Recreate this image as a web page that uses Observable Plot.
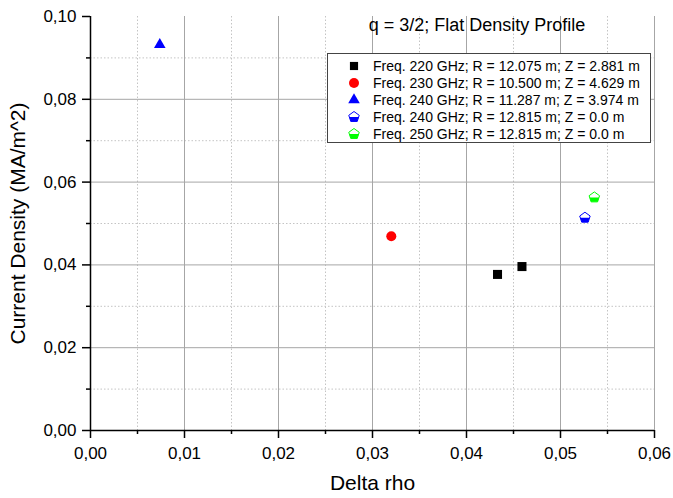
<!DOCTYPE html>
<html><head><meta charset="utf-8">
<script src="https://cdn.jsdelivr.net/npm/d3@7"></script>
<script src="https://cdn.jsdelivr.net/npm/@observablehq/plot@0.6"></script>
<style>
body{margin:0;background:#fff;font-family:"Liberation Sans",Arial,sans-serif;}
#wrap{position:relative;width:673px;height:498px;}
#title{position:absolute;left:477px;top:16px;transform:translateX(-50%);font-size:18px;line-height:18px;white-space:nowrap;color:#000;}
#legend{position:absolute;left:327px;top:53px;width:322px;border:1px solid #444;background:#fff;box-sizing:content-box;padding-top:3px;height:85px;}
.row{display:flex;align-items:center;height:17px;font-size:14px;white-space:nowrap;}
.row svg{margin-left:19px;margin-right:12px;}
</style></head><body><div id="wrap"><div id="title"></div><div id="legend"></div></div>
<script>
// ---- data ----
const seriesLabels = [
  "Freq. 220 GHz; R = 12.075 m; Z = 2.881 m",
  "Freq. 230 GHz; R = 10.500 m; Z = 4.629 m",
  "Freq. 240 GHz; R = 11.287 m; Z = 3.974 m",
  "Freq. 240 GHz; R = 12.815 m; Z = 0.0 m",
  "Freq. 250 GHz; R = 12.815 m; Z = 0.0 m"
];
const seriesColors = ["#000000", "#ff0000", "#0000ff", "#0000ff", "#00ff00"];
const deltaRho       = [0.0433, 0.0459, 0.0320, 0.00737, 0.0526, 0.0536];
const currentDensity = [0.0377, 0.0396, 0.0469, 0.0932, 0.0514, 0.0563];
const seriesIndex    = [0, 0, 1, 2, 3, 4];
const xTicks = [0, 0.01, 0.02, 0.03, 0.04, 0.05, 0.06];
const xMinorTicks = [0.005, 0.015, 0.025, 0.035, 0.045, 0.055];
const yTicks = [0, 0.02, 0.04, 0.06, 0.08, 0.10];
const yMinorTicks = [0.01, 0.03, 0.05, 0.07, 0.09];
const xGridTicks = [0.01, 0.02, 0.03, 0.04, 0.05, 0.06];
const yGridTicks = [0.02, 0.04, 0.06, 0.08];
const titleText = "q = 3/2; Flat Density Profile";
const xLabel = "Delta rho";
const yLabel = "Current Density (MA/m^2)";

// ---- symbols ----
const pentPts = [0, 72, 144, 216, 288].map(a => [Math.sin(a*Math.PI/180), -Math.cos(a*Math.PI/180)]);
const pentagon = {draw(ctx, size){
  const R = Math.sqrt(size/Math.PI)*1.1;
  pentPts.forEach(([x,y],i)=> i ? ctx.lineTo(x*R, y*R) : ctx.moveTo(x*R, y*R));
  ctx.closePath();
}};
const pentagonLower = {draw(ctx, size){
  const R = Math.sqrt(size/Math.PI)*1.1;
  ctx.moveTo(0.851*R, 0); ctx.lineTo(0.588*R, 0.809*R); ctx.lineTo(-0.588*R, 0.809*R); ctx.lineTo(-0.851*R, 0);
  ctx.closePath();
}};

const rows = deltaRho.map((x,i)=>({x, y: currentDensity[i], s: seriesIndex[i]}));
const of = k => rows.filter(d => d.s === k);
const fmt = d => d.toFixed(2).replace(".", ",");

const chart = Plot.plot({
  width: 673, height: 498,
  marginLeft: 90, marginRight: 19, marginTop: 16, marginBottom: 68,
  style: {fontFamily: '"Liberation Sans", Arial, sans-serif', background: "#fff", overflow: "visible"},
  x: {domain: [0, 0.06]},
  y: {domain: [0, 0.10]},
  marks: [
    Plot.gridY(yMinorTicks, {stroke: "#c4c4c4", strokeOpacity: 1, strokeDasharray: "1.5,2"}),
    Plot.gridX(xMinorTicks, {stroke: "#c4c4c4", strokeOpacity: 1, strokeDasharray: "1.5,2"}),
    Plot.gridY(yGridTicks, {stroke: "#a6a6a6", strokeOpacity: 1}),
    Plot.gridX(xGridTicks, {stroke: "#a6a6a6", strokeOpacity: 1}),
    Plot.axisX(xTicks, {tickSize: 8, tickPadding: 8, tickFormat: fmt, fontSize: 17, label: null, stroke: "#000", strokeWidth: 1.5, color: "#000"}),
    Plot.axisX(xMinorTicks, {tickSize: 4, tickFormat: () => "", label: null, stroke: "#000", strokeWidth: 1.5}),
    Plot.axisY(yTicks, {tickSize: 8, tickPadding: 6, tickFormat: fmt, fontSize: 17, label: null, stroke: "#000", strokeWidth: 1.5, color: "#000"}),
    Plot.axisY(yMinorTicks, {tickSize: 4, tickFormat: () => "", label: null, stroke: "#000", strokeWidth: 1.5}),
    Plot.ruleX([0], {stroke: "#000", strokeWidth: 1.5}),
    Plot.ruleY([0], {stroke: "#000", strokeWidth: 1.5}),
    Plot.text([xLabel], {text: d => d, frameAnchor: "bottom", dy: 59, fontSize: 21, fill: "#000"}),
    Plot.text([yLabel], {text: d => d, frameAnchor: "left", textAnchor: "middle", dx: -72, rotate: -90, fontSize: 21, fill: "#000"}),
    Plot.dot(of(0), {x: "x", y: "y", symbol: "square", r: 5.1, fill: seriesColors[0], stroke: "none"}),
    Plot.dot(of(1), {x: "x", y: "y", symbol: "circle", r: 5, fill: seriesColors[1], stroke: "none"}),
    Plot.dot(of(2), {x: "x", y: "y", symbol: "triangle", r: 4.3, fill: seriesColors[2], stroke: "none"}),
    Plot.dot(of(3), {x: "x", y: "y", symbol: pentagon, r: 5, fill: "#fff", stroke: "none"}),
    Plot.dot(of(3), {x: "x", y: "y", symbol: pentagonLower, r: 5, fill: seriesColors[3], stroke: "none"}),
    Plot.dot(of(3), {x: "x", y: "y", symbol: pentagon, r: 5, fill: "none", stroke: seriesColors[3], strokeWidth: 1}),
    Plot.dot(of(4), {x: "x", y: "y", symbol: pentagon, r: 5, fill: "#fff", stroke: "none"}),
    Plot.dot(of(4), {x: "x", y: "y", symbol: pentagonLower, r: 5, fill: seriesColors[4], stroke: "none"}),
    Plot.dot(of(4), {x: "x", y: "y", symbol: pentagon, r: 5, fill: "none", stroke: seriesColors[4], strokeWidth: 1})
  ]
});
document.getElementById("wrap").prepend(chart);
document.getElementById("title").textContent = titleText;

// ---- legend ----
function symPath(type, r){
  const p = d3.path();
  type.draw(p, r*r*Math.PI);
  return p.toString();
}
const legendSyms = [
  c => `<path d="${symPath(d3.symbolSquare, 4.6)}" fill="${c}"/>`,
  c => `<path d="${symPath(d3.symbolCircle, 5)}" fill="${c}"/>`,
  c => `<path d="${symPath(d3.symbolTriangle, 4.3)}" fill="${c}"/>`,
  c => `<path d="${symPath(pentagon, 5)}" fill="#fff"/><path d="${symPath(pentagonLower, 5)}" fill="${c}"/><path d="${symPath(pentagon, 5)}" fill="none" stroke="${c}"/>`,
  c => `<path d="${symPath(pentagon, 5)}" fill="#fff"/><path d="${symPath(pentagonLower, 5)}" fill="${c}"/><path d="${symPath(pentagon, 5)}" fill="none" stroke="${c}"/>`
];
const leg = document.getElementById("legend");
seriesLabels.forEach((lab, i) => {
  const row = document.createElement("div");
  row.className = "row";
  row.innerHTML = `<svg width="14" height="14" viewBox="-7 -7 14 14">${legendSyms[i](seriesColors[i])}</svg><span>${lab}</span>`;
  leg.appendChild(row);
});
</script></body></html>
